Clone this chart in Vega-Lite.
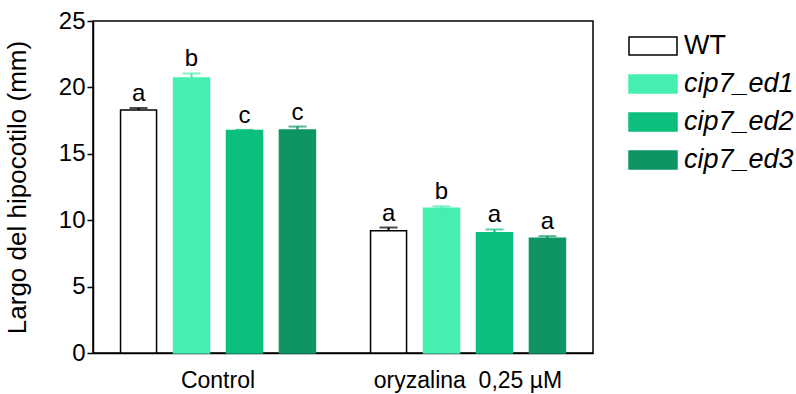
{
  "$schema": "https://vega.github.io/schema/vega-lite/v6.json",
  "width": 500,
  "height": 332,
  "autosize": {"type": "none"},
  "padding": {"left": 93, "top": 21, "right": 203, "bottom": 41},
  "background": "white",
  "config": {
    "font": "Liberation Sans",
    "view": {"stroke": "black", "strokeWidth": 1.5},
    "axis": {"grid": false, "domainColor": "black", "domainWidth": 1.5, "tickColor": "black", "tickWidth": 1.5, "labelColor": "black", "titleColor": "black", "labelFont": "Liberation Sans", "titleFont": "Liberation Sans"}
  },
  "data": {
    "values": [
      {"group": "Control", "genotype": "WT", "mean": 18.3, "upper": 18.45, "letter": "a"},
      {"group": "Control", "genotype": "cip7_ed1", "mean": 20.7, "upper": 21.05, "letter": "b"},
      {"group": "Control", "genotype": "cip7_ed2", "mean": 16.75, "upper": 16.8, "letter": "c"},
      {"group": "Control", "genotype": "cip7_ed3", "mean": 16.8, "upper": 17.05, "letter": "c"},
      {"group": "oryzalina", "genotype": "WT", "mean": 9.2, "upper": 9.45, "letter": "a"},
      {"group": "oryzalina", "genotype": "cip7_ed1", "mean": 10.9, "upper": 11.05, "letter": "b"},
      {"group": "oryzalina", "genotype": "cip7_ed2", "mean": 9.05, "upper": 9.3, "letter": "a"},
      {"group": "oryzalina", "genotype": "cip7_ed3", "mean": 8.65, "upper": 8.8, "letter": "a"}
    ]
  },
  "encoding": {
    "x": {
      "field": "group", "type": "nominal", "sort": ["Control", "oryzalina"],
      "scale": {"paddingInner": 0, "paddingOuter": 0},
      "axis": {
        "title": null, "ticks": false, "labelAngle": 0, "labelFontSize": 23, "labelPadding": 16, "labelLimit": 0,
        "labelExpr": "datum.value === 'oryzalina' ? 'oryzalina\u00a0 0,25 \u00b5M' : datum.value",
        "encode": {"labels": {"update": {"dx": {"signal": "datum.value === 'oryzalina' ? 22 : -3"}}}}
      }
    },
    "xOffset": {
      "field": "genotype", "type": "nominal", "sort": ["WT", "cip7_ed1", "cip7_ed2", "cip7_ed3"],
      "scale": {"paddingInner": 0.32, "paddingOuter": 0.52}
    }
  },
  "layer": [
    {
      "mark": {"type": "bar", "strokeWidth": 1.5},
      "encoding": {
        "y": {
          "field": "mean", "type": "quantitative",
          "scale": {"domain": [0, 25], "nice": false},
          "axis": {"values": [0, 5, 10, 15, 20, 25], "tickSize": 6, "labelFontSize": 24, "labelPadding": 2,
                   "title": "Largo del hipocotilo (mm)", "titleFontSize": 26, "titleFontWeight": "normal", "titlePadding": 28}
        },
        "fill": {
          "field": "genotype", "type": "nominal", "sort": ["WT", "cip7_ed1", "cip7_ed2", "cip7_ed3"],
          "scale": {"domain": ["WT", "cip7_ed1", "cip7_ed2", "cip7_ed3"], "range": ["#ffffff", "#46efb0", "#0cbf7c", "#0e9563"]},
          "legend": {
            "title": null, "orient": "none", "legendX": 535, "legendY": 0,
            "symbolType": "M-1,-0.375L1,-0.375L1,0.375L-1,0.375Z", "symbolSize": 2304,
            "symbolStrokeWidth": 1.5, "labelFontSize": 27, "labelOffset": 6, "rowPadding": -10, "labelColor": "black", "padding": 0,
            "labelFont": "Liberation Sans",
            "encode": {"labels": {"update": {"fontStyle": {"signal": "datum.value === 'WT' ? 'normal' : 'italic'"}}},
                       "symbols": {"update": {"stroke": {"signal": "datum.value === 'WT' ? 'black' : 'transparent'"}}}}
          }
        },
        "stroke": {
          "field": "genotype", "type": "nominal",
          "scale": {"domain": ["WT", "cip7_ed1", "cip7_ed2", "cip7_ed3"], "range": ["#000000", "#46efb0", "#0cbf7c", "#0e9563"]},
          "legend": null
        }
      }
    },
    {
      "mark": {"type": "rule", "strokeWidth": 2},
      "encoding": {
        "y": {"field": "mean", "type": "quantitative"},
        "y2": {"field": "upper"},
        "stroke": {"field": "genotype", "type": "nominal", "legend": null}
      }
    },
    {
      "mark": {"type": "tick", "size": 18, "thickness": 2},
      "encoding": {
        "y": {"field": "upper", "type": "quantitative"},
        "color": {"field": "genotype", "type": "nominal", "legend": null,
                  "scale": {"domain": ["WT", "cip7_ed1", "cip7_ed2", "cip7_ed3"], "range": ["#000000", "#46efb0", "#0cbf7c", "#0e9563"]}}
      }
    },
    {
      "mark": {"type": "text", "fontSize": 24, "baseline": "alphabetic", "dy": -7, "color": "black", "font": "Liberation Sans"},
      "encoding": {
        "y": {"field": "upper", "type": "quantitative"},
        "text": {"field": "letter"}
      }
    }
  ]
}
